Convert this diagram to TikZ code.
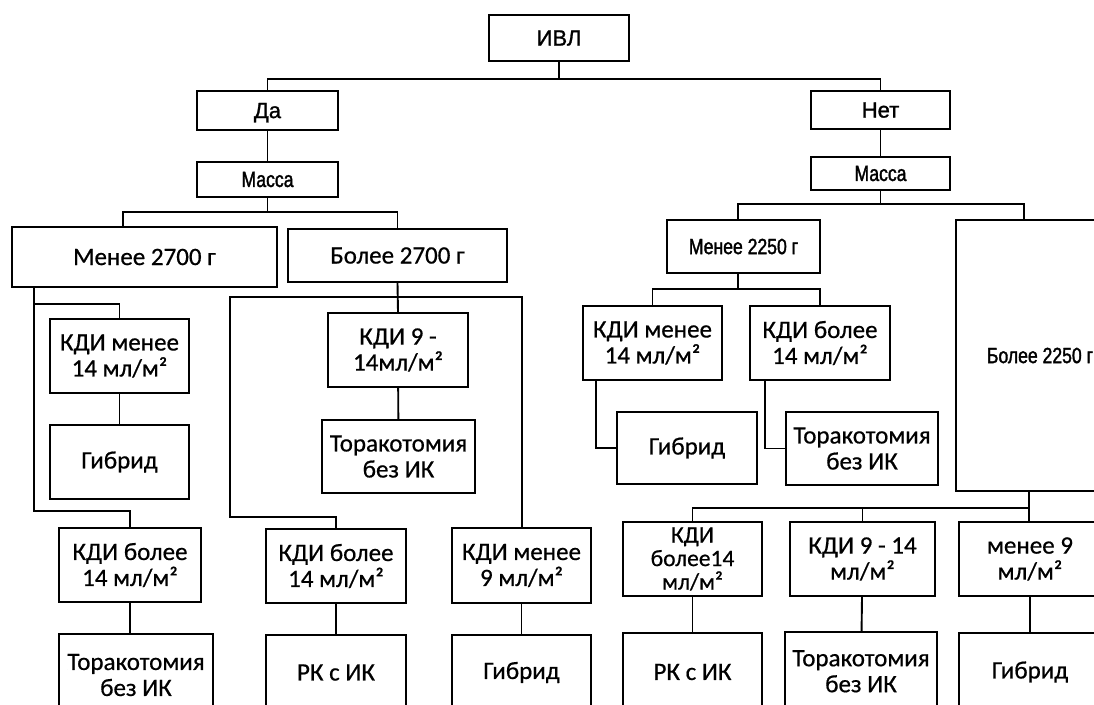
\documentclass[tikz,border=0pt]{standalone}
\usepackage{fontspec}
\setmainfont{Carlito}[FakeBold=0.6]
\newfontfamily\arialf{Liberation Sans}[FakeBold=1.2]
\newfontfamily\narrowf{Liberation Sans}[FakeStretch=0.8,FakeBold=1.6]
\newcommand\mkbox[7][]{%
  \node[box,#1,minimum width={(#5-#3)*1pt},minimum height={(#6-#4)*1pt}]
    (#2) at ({(#3+#5)/2},{(#4+#6)/2}) {#7};}
\newcommand\liftup[2]{\raisebox{#1}{\begin{tabular}{@{}c@{}}#2\end{tabular}}}
\tikzset{
  box/.style={draw, line width=2.3pt, inner sep=0pt, align=center,
    font=\fontsize{25}{26}\selectfont},
  arialtxt/.style={font=\arialf\fontsize{22}{24}\selectfont, text depth=0pt},
  narrowtxt/.style={font=\narrowf\fontsize{22}{24}\selectfont},
  conn/.style={line width=1.9pt}
}
\begin{document}
\begin{tikzpicture}[x=1pt,y=-1pt]
\useasboundingbox (0,0) rectangle (1094,704);
\clip (0,0) rectangle (1094,704);
% boxes
\mkbox[arialtxt]{ivl}{489}{15}{629}{61}{ИВЛ}
\mkbox[arialtxt]{da}{197}{91}{338}{130}{Да}
\mkbox[arialtxt]{net}{811}{91}{950}{129}{Нет}
\mkbox[narrowtxt]{massL}{197}{162}{338}{197}{Масса}
\mkbox[narrowtxt]{massR}{811}{157}{950}{190}{Масса}
\mkbox{m2700}{12}{227}{277}{287}{Менее 2700 г}
\mkbox{b2700}{288}{229}{507}{282}{Более 2700 г}
\mkbox[narrowtxt]{m2250}{667}{220}{820}{273}{Менее 2250 г}
\mkbox[narrowtxt]{b2250}{956}{220}{1124}{491}{Более 2250 г}
\mkbox{kdiL1}{50}{319}{189}{393}{КДИ менее\\14 мл/м²}
\mkbox{gibL1}{50}{425}{189}{499}{Гибрид}
\mkbox{kdiL2}{59}{528}{201}{602}{КДИ более\\14 мл/м²}
\mkbox{torL2}{59}{634}{213}{716}{Торакотомия\\без ИК}
\mkbox{kdiM1}{328}{313}{468}{387}{КДИ 9 -\\14мл/м²}
\mkbox{torM1}{322}{420}{475}{493}{Торакотомия\\без ИК}
\mkbox{kdiM2}{266}{529}{406}{603}{КДИ более\\14 мл/м²}
\mkbox{rkM}{266}{635}{406}{710}{РК с ИК}
\mkbox{kdiM3}{452}{528}{591}{603}{КДИ менее\\9 мл/м²}
\mkbox{gibM}{452}{635}{591}{710}{Гибрид}
\mkbox{kdiR1}{583}{306}{722}{380}{КДИ менее\\14 мл/м²}
\mkbox{kdiR2}{750}{306}{890}{380}{КДИ более\\14 мл/м²}
\mkbox{gibR1}{617}{412}{757}{484}{Гибрид}
\mkbox{torR1}{786}{412}{938}{485}{Торакотомия\\без ИК}
\mkbox[font=\fontsize{23.5}{23.5}\selectfont]{kdiR3}{623}{522}{762}{596}{КДИ\\более14\\мл/м²}
\mkbox{kdiR4}{790}{522}{935}{596}{КДИ 9 - 14\\мл/м²}
\mkbox{kdiR5}{959}{522}{1101}{596}{менее 9\\мл/м²}
\mkbox{rkR}{623}{633}{762}{711}{РК с ИК}
\mkbox{torR3}{785}{632}{937}{716}{\liftup{7pt}{Торакотомия\\без ИК}}
\mkbox{gibR3}{959}{633}{1101}{711}{Гибрид}
% helper coordinates
\coordinate (bus0) at (559,79);
\coordinate (lb) at (123,212);
\coordinate (rb1) at (738,204);
\coordinate (rb2) at (1024,204);
\coordinate (ms) at (738,289);
\coordinate (c1) at (596,448);
\coordinate (c2) at (765,448);
\coordinate (bb) at (1029,508);
\coordinate (lv1) at (34,304);
\coordinate (lv2) at (34,511);
\coordinate (mv0) at (230,517);
\coordinate (mv1) at (230,297);
\coordinate (mv2) at (522,297);
% connectors
\draw[conn] (ivl.south) -- (bus0);
\draw[conn] (da.north) -- (da.north |- bus0) -- (net.north |- bus0) -- (net.north);
\draw[conn] (da) -- (massL);
\draw[conn] (net) -- (massR);
\draw[conn] (massL.south) -- (massL.south |- lb);
\draw[conn] (lb |- m2700.north) -- (lb) -- (b2700.north |- lb) -- (b2700.north);
\draw[conn] (massR.south) -- (massR.south |- rb1);
\draw[conn] (rb1 |- m2250.north) -- (rb1) -- (rb2) -- (rb2 |- b2250.north);
\draw[conn] (ms |- m2250.south) -- (ms);
\draw[conn] (kdiR1.north) -- (kdiR1.north |- ms) -- (kdiR2.north |- ms) -- (kdiR2.north);
\draw[conn] (c1 |- kdiR1.south) |- (gibR1.west);
\draw[conn] (c2 |- kdiR2.south) |- (torR1.west);
\draw[conn] (bb |- b2250.south) -- (bb |- kdiR5.north);
\draw[conn] (kdiR3.north) -- (kdiR3.north |- bb) -- (bb);
\draw[conn] (kdiR4.north) -- (kdiR4.north |- bb);
\draw[conn] (kdiR3) -- (rkR);
\draw[conn] (kdiR4) -- (torR3);
\draw[conn] (kdiR5) -- (gibR3);
\draw[conn] (lv1 |- m2700.south) -- (lv2) -| (kdiL2.north);
\draw[conn] (lv1) -| (kdiL1.north);
\draw[conn] (kdiL1) -- (gibL1);
\draw[conn] (kdiL2.south) -- (kdiL2.south |- torL2.north);
\draw[conn] (b2700.south) -- (kdiM1.north);
\draw[conn] (kdiM2.north) |- (mv0) -- (mv1) -- (mv2) -- (mv2 |- kdiM3.north);
\draw[conn] (kdiM1) -- (torM1);
\draw[conn] (kdiM2) -- (rkM);
\draw[conn] (kdiM3) -- (gibM);
\end{tikzpicture}
\end{document}
